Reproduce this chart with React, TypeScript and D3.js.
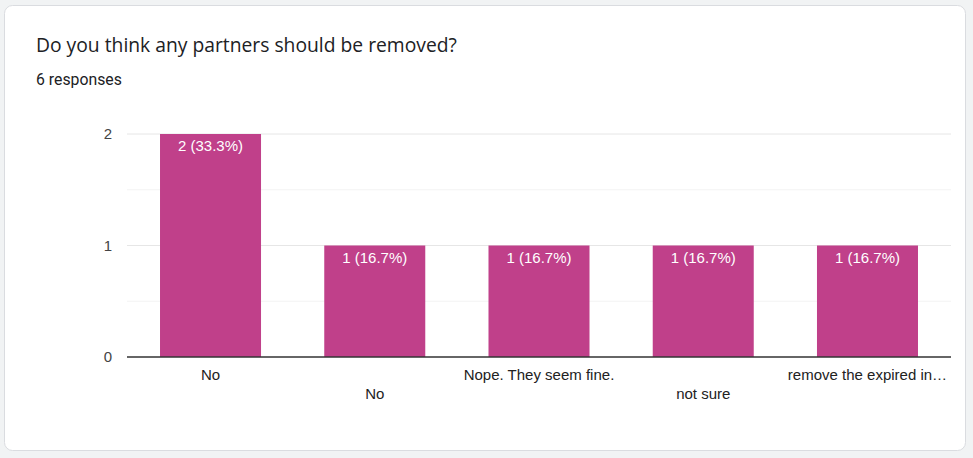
import React from "react";
import * as d3 from "d3";

const categories = ["No", "No ", "Nope. They seem fine.", "not sure", "remove the expired in…"];
const values = [2, 1, 1, 1, 1];
const labels = ["2 (33.3%)", "1 (16.7%)", "1 (16.7%)", "1 (16.7%)", "1 (16.7%)"];
const yTicks = [0, 1, 2];
const minorTicks = [0.5, 1.5];

const W = 973;
const H = 458;
const plot = { left: 127, right: 951, top: 134, bottom: 357 };

export default function App() {
  const x = d3
    .scaleBand<number>()
    .domain(categories.map((_, i) => i))
    .range([128.4, 949.6])
    .paddingInner(0.385)
    .paddingOuter(0.1925);
  const y = d3.scaleLinear().domain([0, 2]).range([plot.bottom, plot.top]);
  const font = "Arial, 'Liberation Sans', sans-serif";

  return (
    <div style={{ position: "absolute", left: 0, top: 0, width: W, height: H, background: "#f1f3f4" }}>
      <svg width={W} height={H} style={{ display: "block" }}>
        <rect x={4.5} y={5.5} width={961} height={445} rx={8} ry={8} fill="#ffffff" stroke="#dadce0" />
        <text x={36} y={52} fontFamily="'Open Sans', Roboto, sans-serif" fontSize={19.3} fill="#202124">
          Do you think any partners should be removed?
        </text>
        <text x={36} y={85} fontFamily="Roboto, sans-serif" fontSize={15.8} fill="#202124">
          6 responses
        </text>
        {minorTicks.map((t) => (
          <line key={"m" + t} x1={plot.left} x2={plot.right} y1={y(t)} y2={y(t)} stroke="#f3f3f3" />
        ))}
        {yTicks.map((t) => (
          <g key={"t" + t}>
            {t > 0 && <line x1={plot.left} x2={plot.right} y1={y(t)} y2={y(t)} stroke="#e6e6e6" />}
            <text x={112} y={y(t) + 5} textAnchor="end" fontFamily={font} fontSize={15} fill="#444">
              {t}
            </text>
          </g>
        ))}
        {values.map((v, i) => (
          <g key={i}>
            <rect x={x(i)!} y={y(v)} width={x.bandwidth()} height={y(0) - y(v)} fill="#c0408a" />
            <text
              x={x(i)! + x.bandwidth() / 2}
              y={y(v) + 17}
              textAnchor="middle"
              fontFamily={font}
              fontSize={15}
              fill="#ffffff"
            >
              {labels[i]}
            </text>
            <text
              x={x(i)! + x.bandwidth() / 2}
              y={i % 2 === 0 ? 380 : 399}
              textAnchor="middle"
              fontFamily={font}
              fontSize={15}
              fill="#222"
            >
              {categories[i]}
            </text>
          </g>
        ))}
        <line x1={plot.left} x2={plot.right} y1={y(0)} y2={y(0)} stroke="#333" strokeWidth={1.5} />
      </svg>
    </div>
  );
}
